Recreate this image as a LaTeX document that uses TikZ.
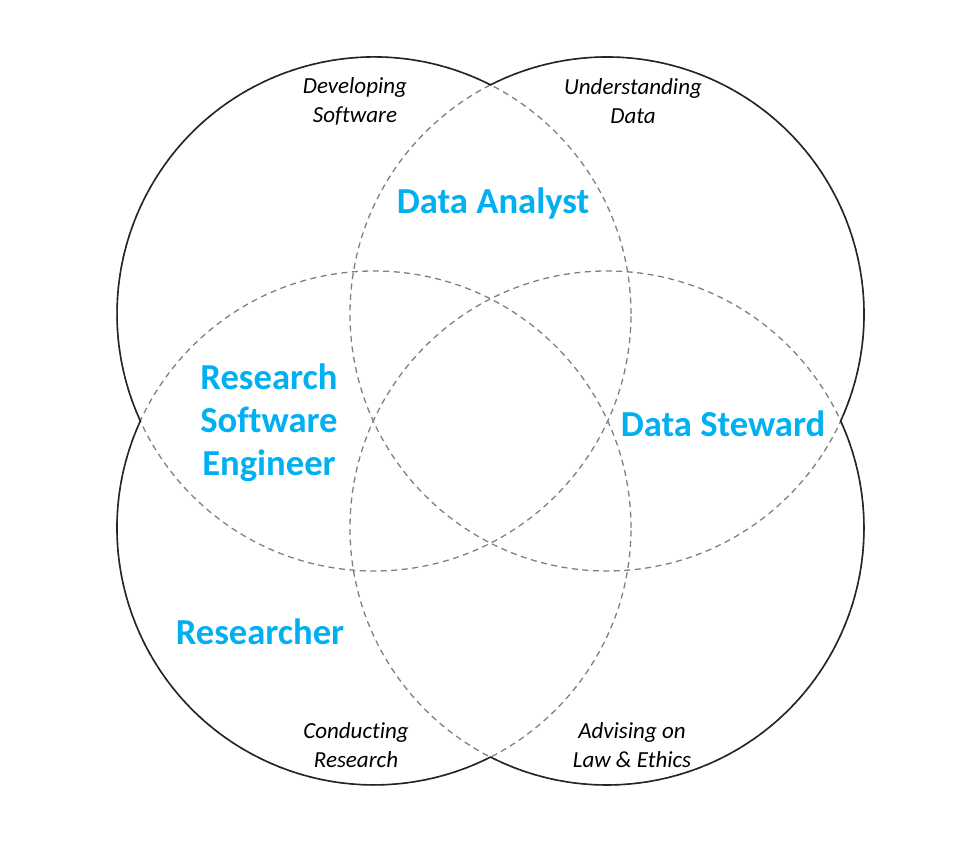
\documentclass[tikz,border=0pt]{standalone}
\usepackage{fontspec}
\setmainfont{Carlito}[Ligatures=NoCommon]
\usetikzlibrary{positioning}
\definecolor{roleblue}{RGB}{0,176,240}
\tikzset{
  ring/.style={draw=black!50, dash pattern=on 6pt off 4.5pt, line width=1.3pt},
  rim/.style={draw=black!85, line width=1.6pt},
  role/.style={font=\fontsize{36.6}{43}\selectfont\bfseries, text=roleblue, align=center},
  skill/.style={font=\fontsize{23}{29}\selectfont\itshape, align=center},
}
\begin{document}
\begin{tikzpicture}[x=1pt, y=1pt]
\useasboundingbox (0,0) rectangle (969,842);
% circle centres
\coordinate (tl) at (374,528);
\coordinate (tr) at (607,528);
\coordinate (bl) at (374,314);
\coordinate (br) at (607,314);
\coordinate (topx) at (490.5,757.1);
% full circles, dashed inside
\foreach \c in {tl,tr,bl,br}
  \draw[ring] (\c) circle[radius=257];
% outer rim of the union
\draw[rim] (topx) arc[start angle=63.05, end angle=204.6, radius=257]
  arc[start angle=155.4, end angle=296.95, radius=257]
  arc[start angle=243.05, end angle=384.6, radius=257]
  arc[start angle=335.4, end angle=476.95, radius=257] -- cycle;
% skills
\node[skill] (dev) at (355,741) {Developing\\Software};
\node[skill] (und) at (633,741) {Understanding\\Data};
\node[skill] (con) at (356,97) {Conducting\\Research};
\node[skill] (adv) at (632,97) {Advising on\\Law \& Ethics};
% roles
\node[role] (ana) at (493,638) {Data Analyst};
\node[role] (rse) at (269,419) {Research\\Software\\Engineer};
\node[role] (ste) at (723,418) {Data Steward};
\node[role] (res) at (260,210) {Researcher};
\end{tikzpicture}
\end{document}
